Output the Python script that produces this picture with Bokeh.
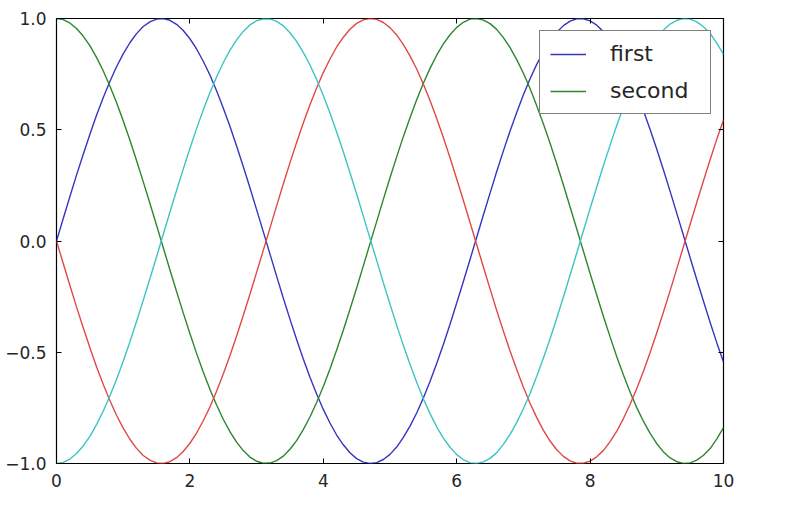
from bokeh.plotting import figure
from bokeh.models import Range1d, LinearAxis, FixedTicker, ColumnDataSource, Legend, LegendItem
from bokeh.embed import file_html
from bokeh.resources import INLINE

x = [0.0, 0.1, 0.2, 0.3, 0.4, 0.5, 0.6, 0.7, 0.8, 0.9,
     1.0, 1.1, 1.2, 1.3, 1.4, 1.5, 1.6, 1.7, 1.8, 1.9,
     2.0, 2.1, 2.2, 2.3, 2.4, 2.5, 2.6, 2.7, 2.8, 2.9,
     3.0, 3.1, 3.2, 3.3, 3.4, 3.5, 3.6, 3.7, 3.8, 3.9,
     4.0, 4.1, 4.2, 4.3, 4.4, 4.5, 4.6, 4.7, 4.8, 4.9,
     5.0, 5.1, 5.2, 5.3, 5.4, 5.5, 5.6, 5.7, 5.8, 5.9,
     6.0, 6.1, 6.2, 6.3, 6.4, 6.5, 6.6, 6.7, 6.8, 6.9,
     7.0, 7.1, 7.2, 7.3, 7.4, 7.5, 7.6, 7.7, 7.8, 7.9,
     8.0, 8.1, 8.2, 8.3, 8.4, 8.5, 8.6, 8.7, 8.8, 8.9,
     9.0, 9.1, 9.2, 9.3, 9.4, 9.5, 9.6, 9.7, 9.8, 9.9, 10.0]

first = [0.000, 0.100, 0.199, 0.296, 0.389, 0.479, 0.565, 0.644, 0.717, 0.783,
         0.841, 0.891, 0.932, 0.964, 0.985, 0.997, 1.000, 0.992, 0.974, 0.946,
         0.909, 0.863, 0.808, 0.746, 0.675, 0.598, 0.516, 0.427, 0.335, 0.239,
         0.141, 0.042, -0.058, -0.158, -0.256, -0.351, -0.443, -0.530, -0.612, -0.688,
         -0.757, -0.818, -0.872, -0.916, -0.952, -0.978, -0.994, -1.000, -0.996, -0.982,
         -0.959, -0.926, -0.883, -0.832, -0.773, -0.706, -0.631, -0.551, -0.465, -0.374,
         -0.279, -0.182, -0.083, 0.017, 0.117, 0.215, 0.312, 0.405, 0.494, 0.578,
         0.657, 0.729, 0.794, 0.851, 0.899, 0.938, 0.968, 0.988, 0.999, 0.999,
         0.989, 0.970, 0.941, 0.902, 0.855, 0.798, 0.734, 0.663, 0.585, 0.501,
         0.412, 0.319, 0.223, 0.124, 0.025, -0.075, -0.174, -0.271, -0.366, -0.458, -0.544]

second = [1.000, 0.995, 0.980, 0.955, 0.921, 0.878, 0.825, 0.765, 0.697, 0.622,
          0.540, 0.454, 0.362, 0.267, 0.170, 0.071, -0.029, -0.129, -0.227, -0.323,
          -0.416, -0.505, -0.589, -0.666, -0.737, -0.801, -0.857, -0.904, -0.942, -0.971,
          -0.990, -0.999, -0.998, -0.987, -0.967, -0.936, -0.897, -0.848, -0.791, -0.726,
          -0.654, -0.575, -0.490, -0.401, -0.307, -0.211, -0.112, -0.012, 0.087, 0.187,
          0.284, 0.378, 0.469, 0.554, 0.635, 0.709, 0.776, 0.835, 0.886, 0.927,
          0.960, 0.983, 0.997, 1.000, 0.993, 0.977, 0.951, 0.914, 0.869, 0.815,
          0.754, 0.685, 0.608, 0.526, 0.439, 0.347, 0.252, 0.153, 0.054, -0.046,
          -0.146, -0.243, -0.339, -0.431, -0.520, -0.602, -0.680, -0.749, -0.811, -0.865,
          -0.911, -0.948, -0.975, -0.992, -1.000, -0.997, -0.985, -0.963, -0.933, -0.889, -0.839]

third = [0.000, -0.100, -0.199, -0.296, -0.389, -0.479, -0.565, -0.644, -0.717, -0.783,
         -0.841, -0.891, -0.932, -0.964, -0.985, -0.997, -1.000, -0.992, -0.974, -0.946,
         -0.909, -0.863, -0.808, -0.746, -0.675, -0.598, -0.516, -0.427, -0.335, -0.239,
         -0.141, -0.042, 0.058, 0.158, 0.256, 0.351, 0.443, 0.530, 0.612, 0.688,
         0.757, 0.818, 0.872, 0.916, 0.952, 0.978, 0.994, 1.000, 0.996, 0.982,
         0.959, 0.926, 0.883, 0.832, 0.773, 0.706, 0.631, 0.551, 0.465, 0.374,
         0.279, 0.182, 0.083, -0.017, -0.117, -0.215, -0.312, -0.405, -0.494, -0.578,
         -0.657, -0.729, -0.794, -0.851, -0.899, -0.938, -0.968, -0.988, -0.999, -0.999,
         -0.989, -0.970, -0.941, -0.902, -0.855, -0.798, -0.734, -0.663, -0.585, -0.501,
         -0.412, -0.319, -0.223, -0.124, -0.025, 0.075, 0.174, 0.271, 0.366, 0.458, 0.544]

fourth = [-1.000, -0.995, -0.980, -0.955, -0.921, -0.878, -0.825, -0.765, -0.697, -0.622,
          -0.540, -0.454, -0.362, -0.267, -0.170, -0.071, 0.029, 0.129, 0.227, 0.323,
          0.416, 0.505, 0.589, 0.666, 0.737, 0.801, 0.857, 0.904, 0.942, 0.971,
          0.990, 0.999, 0.998, 0.987, 0.967, 0.936, 0.897, 0.848, 0.791, 0.726,
          0.654, 0.575, 0.490, 0.401, 0.307, 0.211, 0.112, 0.012, -0.087, -0.187,
          -0.284, -0.378, -0.469, -0.554, -0.635, -0.709, -0.776, -0.835, -0.886, -0.927,
          -0.960, -0.983, -0.997, -1.000, -0.993, -0.977, -0.951, -0.914, -0.869, -0.815,
          -0.754, -0.685, -0.608, -0.526, -0.439, -0.347, -0.252, -0.153, -0.054, 0.046,
          0.146, 0.243, 0.339, 0.431, 0.520, 0.602, 0.680, 0.749, 0.811, 0.865,
          0.911, 0.948, 0.975, 0.992, 1.000, 0.997, 0.985, 0.963, 0.933, 0.889, 0.839]

x_ticks = [0, 2, 4, 6, 8, 10]
x_tick_labels = ["0", "2", "4", "6", "8", "10"]
y_ticks = [-1.0, -0.5, 0.0, 0.5, 1.0]
y_tick_labels = ["\u22121.0", "\u22120.5", "0.0", "0.5", "1.0"]

FONT = "DejaVu Sans"
TXT = "#262626"

p = figure(width=780, height=506, output_backend="svg", toolbar_location=None,
           x_range=Range1d(0, 10), y_range=Range1d(-1, 1),
           x_axis_location=None, y_axis_location=None,
           min_border_left=56, min_border_right=57, min_border_top=18, min_border_bottom=43)
p.grid.visible = False
p.outline_line_color = "black"
p.outline_line_width = 1.2
p.background_fill_color = "white"
p.border_fill_color = "white"

src = ColumnDataSource(dict(x=x, first=first, second=second, third=third, fourth=fourth))
r1 = p.line("x", "first", source=src, line_color="#3535c0", line_width=1.4)
r2 = p.line("x", "second", source=src, line_color="#2e862e", line_width=1.4)
p.line("x", "third", source=src, line_color="#e04848", line_width=1.4)
p.line("x", "fourth", source=src, line_color="#3cc4c4", line_width=1.4)


def style_axis(ax, ticks, labels, show):
    ax.ticker = FixedTicker(ticks=ticks)
    ax.major_label_overrides = {t: l for t, l in zip(ticks, labels)}
    ax.axis_line_color = None
    ax.major_tick_in = 5
    ax.major_tick_out = 0
    ax.major_tick_line_color = "black"
    ax.minor_tick_line_color = None
    ax.major_label_text_font = FONT
    ax.major_label_text_font_size = "17px"
    ax.major_label_text_color = TXT
    ax.major_label_standoff = 10
    if not show:
        ax.major_label_text_alpha = 0
        ax.major_label_text_font_size = "1px"


bx = LinearAxis()
style_axis(bx, x_ticks, x_tick_labels, True)
p.add_layout(bx, "below")
ly = LinearAxis()
style_axis(ly, y_ticks, y_tick_labels, True)
ly.major_label_standoff = 10
p.add_layout(ly, "left")
tx = LinearAxis()
style_axis(tx, x_ticks, x_tick_labels, False)
p.add_layout(tx, "above")
ry = LinearAxis()
style_axis(ry, y_ticks, y_tick_labels, False)
p.add_layout(ry, "right")

legend = Legend(items=[LegendItem(label="first", renderers=[r1]),
                       LegendItem(label="second", renderers=[r2])],
                location="top_right")
legend.margin = 12
legend.padding = 10
legend.spacing = 12
legend.glyph_width = 36
legend.glyph_height = 22
legend.label_height = 22
legend.label_width = 90
legend.label_standoff = 24
legend.label_text_font = FONT
legend.label_text_font_size = "22px"
legend.label_text_color = TXT
legend.border_line_color = "black"
legend.border_line_width = 1.2
legend.background_fill_color = "white"
legend.background_fill_alpha = 1
p.add_layout(legend)

open("out.html", "w").write(file_html(p, INLINE))
